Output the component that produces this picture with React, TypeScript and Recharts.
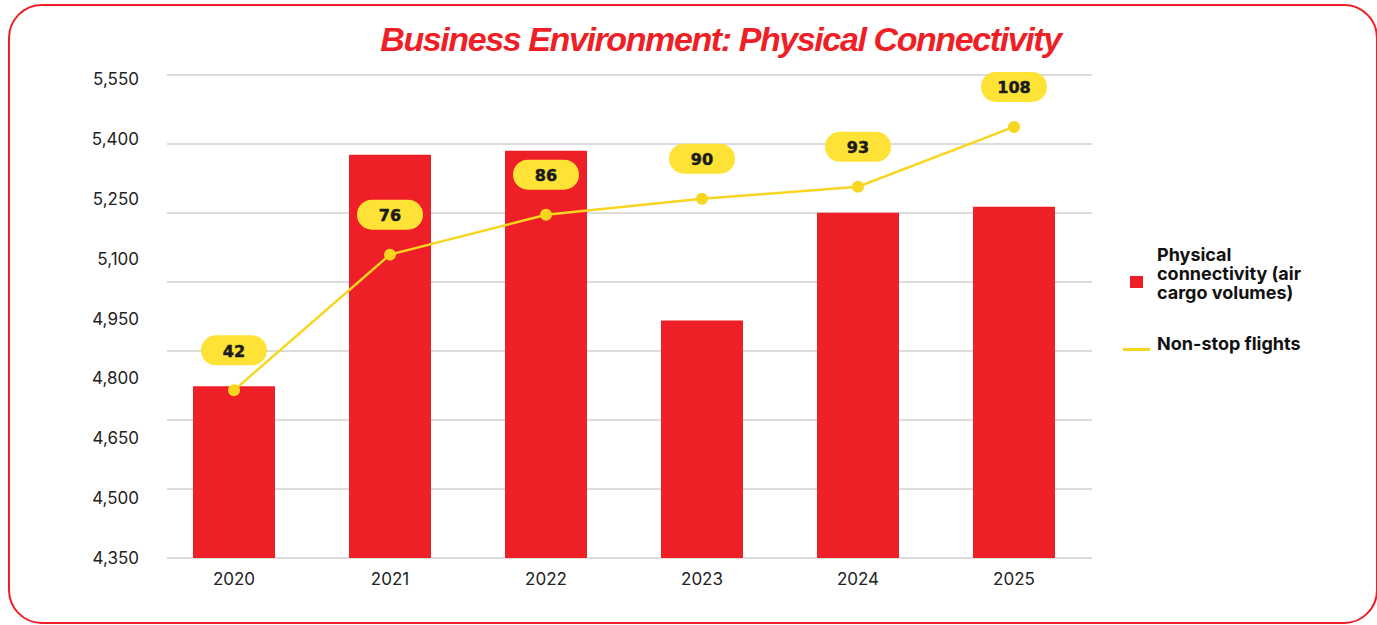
import React from 'react'
import {
  ComposedChart,
  Bar,
  Line,
  XAxis,
  YAxis,
  CartesianGrid,
  LabelList
} from 'recharts'

const years = ['2020', '2021', '2022', '2023', '2024', '2025']
const cargoVolumes = [4780, 5360, 5370, 4945, 5215, 5230]
const nonStopFlights = [42, 76, 86, 90, 93, 108]
const cargoTicks = [4350, 4500, 4650, 4800, 4950, 5100, 5250, 5400, 5550]
// the background grid has its own 7 equal bands, not tied to the tick labels
const GRID_BANDS = 7

const data = years.map((year, i) => ({
  year,
  cargo: cargoVolumes[i],
  flights: nonStopFlights[i]
}))

const RED = '#ee1f27'
const YELLOW = '#f8d61f'
const PILL = '#ffe236'
const FONT = 'Inter, "Liberation Sans", Arial, sans-serif'

const Pill = (props: any) => {
  const { x, y, value } = props
  const w = 66
  const h = 30
  const cy = y - 40
  return (
    <g>
      <rect x={x - w / 2} y={cy - h / 2} width={w} height={h} rx={15} fill={PILL} />
      <text
        x={x}
        y={cy + 1}
        textAnchor="middle"
        dominantBaseline="central"
        fontFamily='"DejaVu Sans", sans-serif'
        fontWeight={700}
        fontSize={16}
        fill="#1b1b1b"
        stroke="#1b1b1b"
        strokeWidth={0.5}
      >
        {value}
      </text>
    </g>
  )
}

const gridRows = ({ offset }: any) =>
  Array.from({ length: GRID_BANDS + 1 }, (_, i) => offset.top + (offset.height * i) / GRID_BANDS)

export default function App() {
  return (
    <div style={{ position: 'absolute', left: 0, top: 0, width: 1377, height: 625, overflow: 'hidden', background: '#fff' }}>
      <div
        style={{
          position: 'absolute',
          left: 8,
          top: 4,
          width: 1366,
          height: 616,
          border: `2.5px solid ${RED}`,
          borderRadius: 34
        }}
      />
      <div
        style={{
          position: 'absolute',
          left: 0,
          width: 1441,
          top: 20,
          textAlign: 'center',
          fontFamily: '"Liberation Sans", Arial, sans-serif',
          fontWeight: 700,
          fontStyle: 'italic',
          fontSize: 34,
          letterSpacing: -1.4,
          color: RED
        }}
      >
        Business Environment: Physical Connectivity
      </div>
      <div style={{ position: 'absolute', left: 0, top: 0 }}>
        <ComposedChart
          width={1377}
          height={625}
          data={data}
          margin={{ top: 75, right: 285, bottom: 27, left: 107 }}
        >
          <CartesianGrid
            vertical={false}
            stroke="#dcdcdc"
            strokeWidth={2}
            horizontalCoordinatesGenerator={gridRows}
          />
          <XAxis
            dataKey="year"
            axisLine={false}
            tickLine={false}
            height={40}
            tickMargin={9}
            padding={{ left: -11, right: 0 }}
            tick={{ fill: '#222', fontSize: 17, fontFamily: FONT }}
          />
          <YAxis
            yAxisId="cargo"
            width={60}
            domain={[4350, 5560]}
            ticks={cargoTicks}
            type="number"
            axisLine={false}
            tickLine={false}
            tickMargin={22}
            tickFormatter={(v: number) => v.toLocaleString('en-US')}
            tick={{ fill: '#222', fontSize: 17, fontFamily: FONT }}
          />
          <YAxis yAxisId="flights" hide orientation="right" domain={[0, 121]} type="number" />
          <Bar yAxisId="cargo" dataKey="cargo" fill={RED} barSize={82} isAnimationActive={false} />
          <Line
            yAxisId="flights"
            dataKey="flights"
            stroke={YELLOW}
            strokeWidth={2.5}
            dot={{ r: 6, fill: YELLOW, stroke: 'none' }}
            activeDot={false}
            isAnimationActive={false}
          >
            <LabelList dataKey="flights" content={<Pill />} />
          </Line>
        </ComposedChart>
      </div>
      <div
        style={{
          position: 'absolute',
          left: 1123,
          top: 245,
          fontFamily: FONT,
          fontWeight: 700,
          fontSize: 18,
          lineHeight: '19px',
          letterSpacing: 0,
          color: '#111'
        }}
      >
        <div style={{ display: 'flex', alignItems: 'flex-start' }}>
          <div style={{ width: 13, height: 12, background: RED, marginLeft: 7, marginRight: 14, marginTop: 31 }} />
          <div>
            Physical
            <br />
            connectivity (air
            <br />
            cargo volumes)
          </div>
        </div>
        <div style={{ display: 'flex', alignItems: 'flex-start', marginTop: 32 }}>
          <div style={{ width: 27, height: 3, background: YELLOW, marginTop: 14, marginRight: 7 }} />
          <div>Non-stop flights</div>
        </div>
      </div>
    </div>
  )
}
